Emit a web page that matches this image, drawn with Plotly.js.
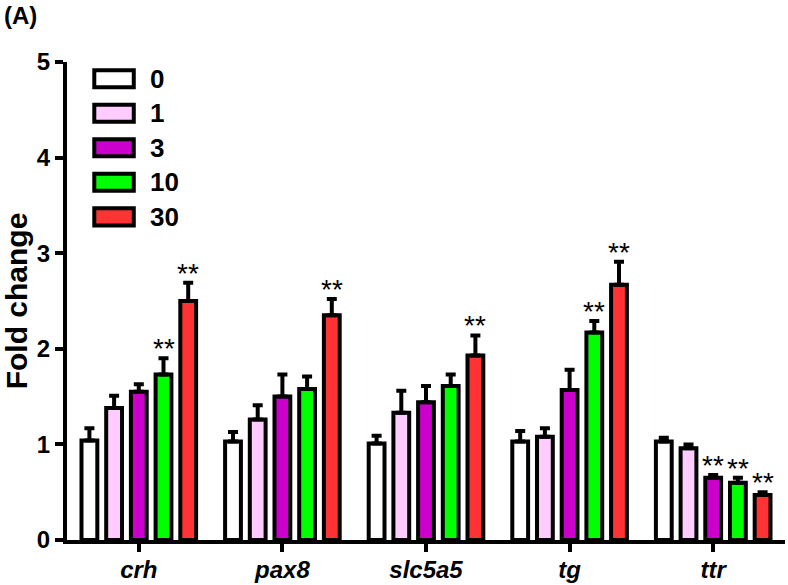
<!DOCTYPE html>
<html>
<head>
<meta charset="utf-8">
<script src="https://cdn.plot.ly/plotly-3.0.1.min.js"></script>
<style>html,body{margin:0;padding:0;background:#fff}#chart{width:788px;height:585px}</style>
</head>
<body>
<div id="chart"></div>
<script>
// ---- data ----
const genes = ['crh', 'pax8', 'slc5a5', 'tg', 'ttr'];
const doses = ['0', '1', '3', '10', '30'];
const colors = ['#ffffff', '#ffccff', '#cc00cc', '#00ff00', '#ff3333'];
const mean0  = [1.04, 1.03, 1.01, 1.03, 1.03];
const mean1  = [1.38, 1.26, 1.33, 1.08, 0.96];
const mean3  = [1.55, 1.50, 1.44, 1.57, 0.65];
const mean10 = [1.73, 1.58, 1.61, 2.17, 0.60];
const mean30 = [2.50, 2.35, 1.93, 2.67, 0.47];
const err0  = [0.13, 0.10, 0.08, 0.11, 0.04];
const err1  = [0.13, 0.15, 0.23, 0.09, 0.04];
const err3  = [0.08, 0.23, 0.17, 0.21, 0.03];
const err10 = [0.17, 0.13, 0.12, 0.12, 0.05];
const err30 = [0.19, 0.17, 0.21, 0.24, 0.03];
// significance marks (** ) per dose series, per gene
const sig0  = ['', '', '', '', ''];
const sig1  = ['', '', '', '', ''];
const sig3  = ['', '', '', '', '**'];
const sig10 = ['**', '', '', '**', '**'];
const sig30 = ['**', '**', '**', '**', '**'];

const means = [mean0, mean1, mean3, mean10, mean30];
const errs = [err0, err1, err3, err10, err30];
const sigs = [sig0, sig1, sig3, sig10, sig30];

const FONT = 'Liberation Sans, Arial, sans-serif';
const bargap = 0.14, bargroupgap = 0.36;
const N = doses.length;
const slot = (1 - bargap) / N;

const traces = doses.map((d, j) => ({
  type: 'bar',
  name: d,
  x: genes,
  y: means[j],
  marker: {color: colors[j], line: {color: '#000', width: 4}},
  error_y: {type: 'data', array: errs[j], symmetric: false, arrayminus: genes.map(() => 0),
            color: '#000', thickness: 4, width: 5},
  showlegend: false,
  hoverinfo: 'skip'
}));

const annotations = [];
sigs.forEach((s, j) => {
  s.forEach((txt, i) => {
    if (!txt) return;
    annotations.push({
      xref: 'x', yref: 'y', x: i + (j - (N - 1) / 2) * slot, y: means[j][i] + errs[j][i],
      text: txt, showarrow: false, yanchor: 'bottom', yshift: -8,
      font: {family: FONT, size: 28, color: '#000'}
    });
  });
});
annotations.push({xref: 'paper', yref: 'paper', x: -0.09, y: 1.13, xanchor: 'left', yanchor: 'top',
  text: '<b>(A)</b>', showarrow: false, font: {family: FONT, size: 24, color: '#000'}});

// custom legend
const shapes = [];
const legX0 = 0.038, legX1 = 0.093, legTop = 0.965, legStep = 0.0722, legH = 0.036;
doses.forEach((d, j) => {
  const yc = legTop - j * legStep;
  shapes.push({type: 'rect', xref: 'paper', yref: 'paper', x0: legX0, x1: legX1, y0: yc - legH / 2, y1: yc + legH / 2,
    fillcolor: colors[j], line: {color: '#000', width: 4}});
  annotations.push({xref: 'paper', yref: 'paper', x: legX1 + 0.02, y: yc, xanchor: 'left', yanchor: 'middle',
    text: '<b>' + d + '</b>', showarrow: false, font: {family: FONT, size: 26, color: '#000'}});
});

const layout = {
  width: 788, height: 585,
  margin: {l: 67, r: 3, t: 62, b: 45},
  paper_bgcolor: '#fff', plot_bgcolor: '#fff',
  barmode: 'group', bargap: bargap, bargroupgap: bargroupgap,
  font: {family: FONT, color: '#000'},
  xaxis: {
    type: 'category', range: [-0.5, 4.5], showgrid: false, zeroline: false,
    showline: true, linecolor: '#000', linewidth: 4,
    ticks: 'outside', ticklen: 8, tickwidth: 4, tickcolor: '#000',
    tickvals: genes, ticktext: genes.map(g => '<b><i>' + g + '</i></b>'),
    tickfont: {size: 24, family: FONT}, ticklabelstandoff: -3
  },
  yaxis: {
    range: [0, 5], tickvals: [0, 1, 2, 3, 4, 5], showgrid: false, zeroline: false,
    showline: true, linecolor: '#000', linewidth: 4,
    ticks: 'outside', ticklen: 8, tickwidth: 4, tickcolor: '#000',
    ticktext: ['0','1','2','3','4','5'].map(t => '<b>' + t + '</b>'),
    tickfont: {size: 24, family: FONT},
    title: {text: '<b>Fold change</b>', font: {size: 30}, standoff: 6}
  },
  shapes: shapes,
  annotations: annotations
};

Plotly.newPlot('chart', traces, layout, {displayModeBar: false, staticPlot: true});
</script>
</body>
</html>
